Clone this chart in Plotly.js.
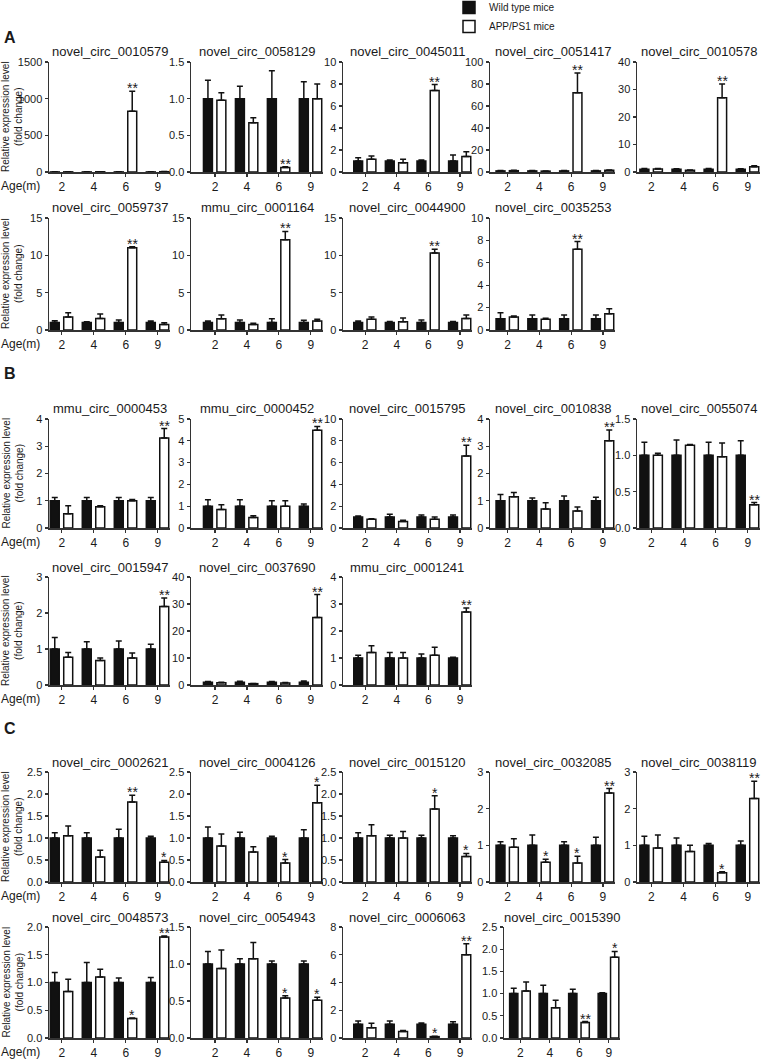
<!DOCTYPE html>
<html>
<head>
<meta charset="utf-8">
<script src="https://cdn.plot.ly/plotly-3.0.1.min.js"></script>
<style>
  html, body { margin: 0; padding: 0; background: #fff; }
  #chart { width: 763px; height: 1060px; }
</style>
</head>
<body>
<div id="chart"></div>
<script>
// ages on the x axis
const ages = ['2', '4', '6', '9'];

const panelNames = [
  'novel_circ_0010579', 'novel_circ_0058129', 'novel_circ_0045011', 'novel_circ_0051417', 'novel_circ_0010578',
  'novel_circ_0059737', 'mmu_circ_0001164', 'novel_circ_0044900', 'novel_circ_0035253',
  'mmu_circ_0000453', 'mmu_circ_0000452', 'novel_circ_0015795', 'novel_circ_0010838', 'novel_circ_0055074',
  'novel_circ_0015947', 'novel_circ_0037690', 'mmu_circ_0001241',
  'novel_circ_0002621', 'novel_circ_0004126', 'novel_circ_0015120', 'novel_circ_0032085', 'novel_circ_0038119',
  'novel_circ_0048573', 'novel_circ_0054943', 'novel_circ_0006063', 'novel_circ_0015390'
];

// wild type (normalised to 1)
const wtMean = [
  [1, 1, 1, 1], [1, 1, 1, 1], [1, 1, 1, 1], [1, 1, 1, 1], [1, 1, 1, 1],
  [1, 1, 1, 1], [1, 1, 1, 1], [1, 1, 1, 1], [1, 1, 1, 1],
  [1, 1, 1, 1], [1, 1, 1, 1], [1, 1, 1, 1], [1, 1, 1, 1], [1, 1, 1, 1],
  [1, 1, 1, 1], [1, 1, 1, 1], [1, 1, 1, 1],
  [1, 1, 1, 1], [1, 1, 1, 1], [1, 1, 1, 1], [1, 1, 1, 1], [1, 1, 1, 1],
  [1, 1, 1, 1], [1, 1, 1, 1], [1, 1, 1, 1], [1, 1, 1, 1]
];
const wtErr = [
  [2, 2, 2, 2], [0.25, 0.17, 0.38, 0.23], [0.3, 0.1, 0.1, 0.55], [0.3, 0.3, 0.3, 0.3], [0.3, 0.2, 0.3, 0.2],
  [0.25, 0.1, 0.35, 0.2], [0.2, 0.35, 0.5, 0.3], [0.2, 0.15, 0.35, 0.15], [0.55, 0.35, 0.35, 0.35],
  [0.12, 0.12, 0.12, 0.12], [0.3, 0.3, 0.25, 0.1], [0.1, 0.27, 0.2, 0.2], [0.23, 0.1, 0.17, 0.13], [0.18, 0.21, 0.18, 0.2],
  [0.32, 0.2, 0.22, 0.13], [0.3, 0.4, 0.3, 0.5], [0.1, 0.2, 0.15, 0.03],
  [0.12, 0.12, 0.2, 0.04], [0.25, 0.13, 0.04, 0.19], [0.12, 0.06, 0.06, 0.05], [0.1, 0.28, 0.1, 0.22], [0.25, 0.2, 0.05, 0.12],
  [0.18, 0.36, 0.08, 0.09], [0.17, 0.07, 0.04, 0.04], [0.22, 0.22, 0.08, 0.17], [0.12, 0.19, 0.1, 0.02]
];

// APP/PS1
const appMean = [
  [2, 3, 830, 4], [0.98, 0.67, 0.06, 1.0], [1.15, 0.85, 7.4, 1.4], [1.2, 0.8, 72, 1.5], [1.1, 0.6, 27, 1.9],
  [1.75, 1.55, 11.0, 0.72], [1.5, 0.75, 12.1, 1.2], [1.45, 1.1, 10.3, 1.55], [1.15, 0.95, 7.2, 1.45],
  [0.52, 0.78, 1.0, 3.3], [0.85, 0.48, 1.0, 4.48], [0.8, 0.6, 0.8, 6.6], [1.15, 0.7, 0.62, 3.2], [1.0, 1.14, 0.98, 0.32],
  [0.77, 0.68, 0.75, 2.18], [0.8, 0.5, 0.7, 25], [1.2, 1.0, 1.1, 2.7],
  [1.05, 0.57, 1.82, 0.45], [0.82, 0.68, 0.43, 1.8], [1.05, 1.0, 1.66, 0.58], [0.95, 0.54, 0.52, 2.43], [0.93, 0.83, 0.25, 2.28],
  [0.84, 1.1, 0.35, 1.82], [0.94, 1.07, 0.54, 0.51], [0.73, 0.46, 0.1, 6.0], [1.06, 0.68, 0.35, 1.82]
];
const appErr = [
  [2, 2, 270, 2], [0.1, 0.07, 0.01, 0.2], [0.3, 0.3, 0.55, 0.45], [0.3, 0.2, 18, 0.3], [0.2, 0.1, 5, 0.4],
  [0.55, 0.6, 0.15, 0.25], [0.5, 0.15, 1.1, 0.25], [0.3, 0.5, 0.5, 0.45], [0.1, 0.1, 0.7, 0.45],
  [0.3, 0.04, 0.05, 0.35], [0.22, 0.08, 0.25, 0.18], [0.05, 0.1, 0.2, 1.0], [0.15, 0.23, 0.15, 0.4], [0.03, 0.01, 0.19, 0.03],
  [0.13, 0.07, 0.14, 0.24], [0.2, 0.1, 0.2, 8.5], [0.25, 0.2, 0.3, 0.15],
  [0.22, 0.15, 0.15, 0.04], [0.27, 0.12, 0.08, 0.4], [0.25, 0.15, 0.3, 0.07], [0.23, 0.08, 0.18, 0.12], [0.35, 0.17, 0.03, 0.47],
  [0.22, 0.14, 0.01, 0.02], [0.25, 0.22, 0.03, 0.04], [0.33, 0.08, 0.02, 0.8], [0.2, 0.17, 0.02, 0.13]
];
const appSig = [
  ['', '', '**', ''], ['', '', '**', ''], ['', '', '**', ''], ['', '', '**', ''], ['', '', '**', ''],
  ['', '', '**', ''], ['', '', '**', ''], ['', '', '**', ''], ['', '', '**', ''],
  ['', '', '', '**'], ['', '', '', '**'], ['', '', '', '**'], ['', '', '', '**'], ['', '', '', '**'],
  ['', '', '', '**'], ['', '', '', '**'], ['', '', '', '**'],
  ['', '', '**', '*'], ['', '', '*', '*'], ['', '', '*', '*'], ['', '*', '*', '**'], ['', '', '*', '**'],
  ['', '', '*', '**'], ['', '', '*', '*'], ['', '', '*', '**'], ['', '', '**', '*']
];

const yMax = [1500, 1.5, 10, 100, 40, 15, 15, 15, 10, 4, 5, 10, 4, 1.5, 3, 40, 4, 2.5, 2.5, 2.5, 3, 3, 2, 1.5, 8, 2.5];
const yStep = [500, 0.5, 2, 20, 10, 5, 5, 5, 2, 1, 1, 2, 1, 0.5, 1, 10, 1, 0.5, 0.5, 0.5, 1, 1, 0.5, 0.5, 2, 0.5];

// --- page geometry (pixels) ---
const W = 763, H = 1060;
const rowCounts = [5, 4, 5, 3, 5, 4];
const rowTop = [62, 218, 419, 577, 772, 927];
const rowBottom = [172, 330, 528, 685, 882, 1038];
const colLeft = [49, 191, 343, 490, 637];
const colRight = [170, 323, 472, 615, 760];
const colStart = [-0.4, -0.75, -0.7, -0.55, -0.45];
// a few panels sit a little off the common grid
const panelShift = {25: [504, 620]};
const sectionLetters = [['A', 38], ['B', 373], ['C', 728]];

const ink = '#111';
const textCol = '#1a1a1a';
const fontFam = 'Liberation Sans, Arial, sans-serif';
const barW = 0.28, wtOff = -0.36, appOff = 0.06;

function fx(p) { return p / W; }
function fy(p) { return 1 - p / H; }

let traces = [];
let annotations = [];
let layout = {
  width: W, height: H,
  margin: {l: 0, r: 0, t: 0, b: 0, autoexpand: false},
  paper_bgcolor: '#fff', plot_bgcolor: 'rgba(0,0,0,0)',
  font: {family: fontFam, color: textCol, size: 11},
  barmode: 'overlay',
  showlegend: true,
  legend: {
    x: fx(449), y: fy(-7), xanchor: 'left', yanchor: 'top',
    font: {size: 10, color: textCol}, bgcolor: 'rgba(0,0,0,0)',
    itemwidth: 30, tracegroupgap: 0
  }
};

let p = 0;
for (let r = 0; r < rowCounts.length; r++) {
  for (let c = 0; c < rowCounts[r]; c++) {
    const k = p + 1;
    const xa = 'x' + (k === 1 ? '' : k);
    const ya = 'y' + (k === 1 ? '' : k);
    const xs = [0, 1, 2, 3];
    const left = panelShift[p] ? panelShift[p][0] : colLeft[c];
    const right = panelShift[p] ? panelShift[p][1] : colRight[c];

    traces.push({
      type: 'bar', name: 'Wild type mice', x: xs, y: wtMean[p],
      width: barW, offset: wtOff, xaxis: xa, yaxis: ya,
      marker: {color: ink, line: {color: ink, width: 1.5}},
      error_y: {type: 'data', symmetric: false, array: wtErr[p], arrayminus: [0, 0, 0, 0],
                color: ink, thickness: 1.5, width: 3},
      showlegend: p === 0, legendgroup: 'wt', hoverinfo: 'skip'
    });
    traces.push({
      type: 'bar', name: 'APP/PS1 mice', x: xs, y: appMean[p],
      width: barW, offset: appOff, xaxis: xa, yaxis: ya,
      marker: {color: '#fff', line: {color: ink, width: 1.5}},
      error_y: {type: 'data', symmetric: false, array: appErr[p], arrayminus: [0, 0, 0, 0],
                color: ink, thickness: 1.5, width: 3},
      showlegend: p === 0, legendgroup: 'app', hoverinfo: 'skip'
    });

    const small = yStep[p] < 1;
    layout['xaxis' + (k === 1 ? '' : k)] = {
      domain: [fx(left), fx(right)], anchor: ya,
      range: [colStart[c], 3.38], tickvals: xs, ticktext: ages,
      showline: true, linecolor: '#333', linewidth: 1.5, mirror: false,
      ticks: 'outside', ticklen: 3, tickwidth: 1.2, tickcolor: '#333',
      showgrid: false, zeroline: false, fixedrange: true,
      tickfont: {size: 12, color: textCol}
    };
    layout['yaxis' + (k === 1 ? '' : k)] = {
      domain: [fy(rowBottom[r]), fy(rowTop[r])], anchor: xa,
      range: [0, yMax[p]], dtick: yStep[p], tick0: 0,
      tickformat: small ? '.1f' : 'd',
      showline: true, linecolor: '#333', linewidth: 1.5,
      ticks: 'outside', ticklen: 3, tickwidth: 1.2, tickcolor: '#333',
      showgrid: false, zeroline: false, fixedrange: true,
      tickfont: {size: 11, color: textCol}
    };

    // panel title
    annotations.push({
      xref: 'paper', yref: 'paper', x: fx((left + right) / 2), y: fy(rowTop[r] - 10),
      text: panelNames[p], showarrow: false, xanchor: 'center', yanchor: 'middle',
      font: {size: 13, color: textCol}
    });

    // significance stars
    for (let i = 0; i < 4; i++) {
      if (!appSig[p][i]) continue;
      annotations.push({
        xref: xa, yref: ya, x: i + appOff + barW / 2, y: appMean[p][i] + appErr[p][i],
        text: appSig[p][i], showarrow: false, xanchor: 'center', yanchor: 'bottom', yshift: -7,
        font: {size: 14, color: textCol}
      });
    }
    p++;
  }

  // row labels
  annotations.push({
    xref: 'paper', yref: 'paper', x: fx(20), y: fy(rowBottom[r] + 14),
    text: 'Age(m)', showarrow: false, xanchor: 'center', yanchor: 'middle',
    font: {size: 12, color: textCol}
  });
  annotations.push({
    xref: 'paper', yref: 'paper', x: fx(12), y: fy((rowTop[r] + rowBottom[r]) / 2),
    text: 'Relative expression level<br>(fold change)', showarrow: false, textangle: -90,
    xanchor: 'center', yanchor: 'middle', font: {size: 10, color: textCol}
  });
}

sectionLetters.forEach(function (s) {
  annotations.push({
    xref: 'paper', yref: 'paper', x: fx(10), y: fy(s[1]),
    text: '<b>' + s[0] + '</b>', showarrow: false, xanchor: 'center', yanchor: 'middle',
    font: {size: 16, color: textCol}
  });
});

layout.annotations = annotations;

Plotly.newPlot('chart', traces, layout, {displayModeBar: false, staticPlot: true});
</script>
</body>
</html>
